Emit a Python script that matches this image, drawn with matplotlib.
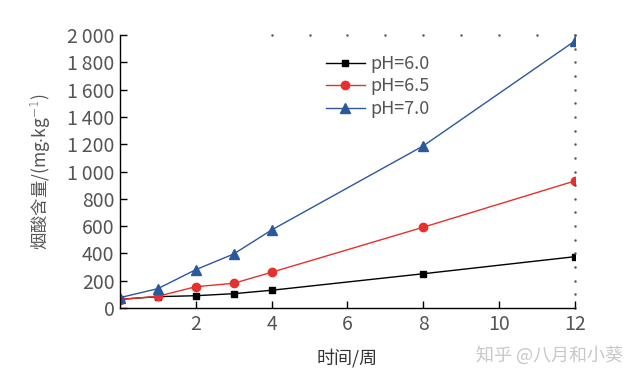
import matplotlib as mpl
import matplotlib.pyplot as plt
import numpy as np

mpl.use('Agg')
plt.rcParams['font.family'] = ['Noto Sans CJK SC', 'DejaVu Sans']
plt.rcParams['font.weight'] = 'light'

weeks = [0, 1, 2, 3, 4, 8, 12]
ph60 = [64, 83, 90, 105, 130, 251, 376]
ph65 = [62, 86, 156, 181, 262, 592, 931]
ph70 = [76, 142, 281, 396, 572, 1188, 1957]
labels = ['pH=6.0', 'pH=6.5', 'pH=7.0']
yticks = [0, 200, 400, 600, 800, 1000, 1200, 1400, 1600, 1800, 2000]
ytick_labels = ['0', '200', '400', '600', '800', '1\u2009000', '1\u2009200',
                '1\u2009400', '1\u2009600', '1\u2009800', '2\u2009000']
xticks = [2, 4, 6, 8, 10, 12]

gray = '#555555'
fig = plt.figure(figsize=(6.39, 3.80), dpi=100)
ax = fig.add_axes([120 / 639, 1 - 308 / 380, 455 / 639, 273 / 380])

ax.plot(weeks, ph60, color='black', lw=1, marker='s', ms=5, label=labels[0])
ax.plot(weeks, ph65, color='#e5302e', lw=1, marker='o', ms=6, label=labels[1])
ax.plot(weeks, ph70, color='#2b579e', lw=1, marker='^', ms=7, label=labels[2])

# dotted frame remnants on top/right
ax.plot(np.arange(4, 13), [2000] * 9, ls='none', marker='.', ms=1.5, color='#555555', clip_on=False)
ax.plot([12] * 21, np.arange(0, 2001, 100), ls='none', marker='.', ms=1.5, color='#555555', clip_on=False)

ax.set_xlim(0, 12)
ax.set_ylim(0, 2000)
ax.set_xticks(xticks)
ax.set_yticks(yticks)
ax.set_yticklabels(ytick_labels)
ax.tick_params(direction='in', length=5, width=1, labelsize=14, labelcolor=gray, pad=4)
for s in ['top', 'right']:
    ax.spines[s].set_visible(False)
for s in ['left', 'bottom']:
    ax.spines[s].set_linewidth(1)

ax.set_xlabel('时间/周', fontsize=13, color='#333333', labelpad=10)
ax.set_ylabel('烟酸含量/(mg$\\cdot$kg$^{-1}$)', fontsize=12.5, color=gray, labelpad=10)

leg = ax.legend(loc='upper left', bbox_to_anchor=(0.42, 0.98), frameon=True, framealpha=1,
                edgecolor='none', fontsize=13, handlelength=2.2, labelspacing=0.25,
                borderpad=0.3, handletextpad=0.3)
for t in leg.get_texts():
    t.set_color(gray)

fig.text(0.975, 0.065, '知乎 @八月和小葵', fontsize=13, color='#c8c8c8', ha='right', va='center')

plt.savefig('out.png', dpi=100)
